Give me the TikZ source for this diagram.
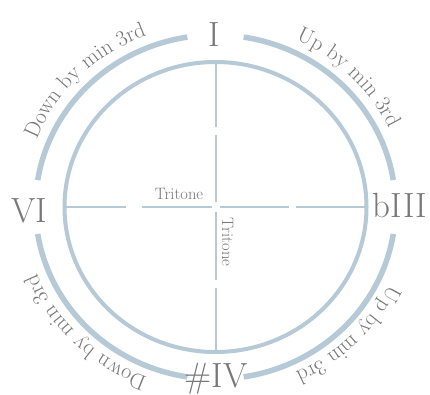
\documentclass[tikz,border=0pt]{standalone}
\usetikzlibrary{decorations.text}
\definecolor{ring}{RGB}{182,201,215}
\definecolor{txt}{RGB}{120,120,120}
\begin{document}
\begin{tikzpicture}[x=1pt,y=1pt,
  numeral/.style={text=txt, font=\fontsize{35}{35}\selectfont, inner sep=0pt, anchor=base},
  tri/.style={text=txt, font=\fontsize{16.5}{16.5}\selectfont, inner sep=0pt, anchor=base},
  outerarc/.style={draw=ring, line width=5.5pt},
  crossline/.style={draw=ring, line width=2pt},
  innerring/.style={draw=ring, line width=4pt}
]
\useasboundingbox[fill=white] (0,0) rectangle (430,394);
\coordinate (c) at (215.5,187);

% inner ring
\draw[innerring] (c) ellipse [x radius=151pt, y radius=145pt];

% outer arcs
\draw[outerarc] (c) ++(99:180pt and 172pt) arc[start angle=99, end angle=171, x radius=180pt, y radius=172pt];
\draw[outerarc] (c) ++(81:180pt and 172pt) arc[start angle=81, end angle=9, x radius=180pt, y radius=172pt];
\draw[outerarc] (c) ++(-9:180pt and 172pt) arc[start angle=-9, end angle=-81, x radius=180pt, y radius=172pt];
\draw[outerarc] (c) ++(-99:180pt and 172pt) arc[start angle=-99, end angle=-171, x radius=180pt, y radius=172pt];

% arc labels
\path[decorate, decoration={text along path, text align=center, text color=txt,
  text={|\fontsize{22}{22}\selectfont|Down by min 3rd}}]
  (c) ++(171:192pt and 184pt) arc[start angle=171, end angle=99, x radius=192pt, y radius=184pt];
\path[decorate, decoration={text along path, text align=center, text color=txt,
  text={|\fontsize{22}{22}\selectfont|Up by min 3rd}}]
  (c) ++(81:192pt and 184pt) arc[start angle=81, end angle=9, x radius=192pt, y radius=184pt];
\path[decorate, decoration={text along path, text align=center, text color=txt,
  text={|\fontsize{22}{22}\selectfont|Up by min 3rd}}]
  (c) ++(-9:192pt and 182pt) arc[start angle=-9, end angle=-81, x radius=192pt, y radius=182pt];
\path[decorate, decoration={text along path, text align=center, text color=txt,
  text={|\fontsize{22}{22}\selectfont|Down by min 3rd}}]
  (c) ++(-99:192pt and 182pt) arc[start angle=-99, end angle=-171, x radius=192pt, y radius=182pt];

% cross lines (broken)
\draw[crossline] (c) ++(0,145) -- ++(0,-65);
\draw[crossline] (c) ++(0,72) -- ++(0,-67);
\draw[crossline] (c) ++(0,-5) -- ++(0,-68);
\draw[crossline] (c) ++(0,-81) -- ++(0,-64);
\draw[crossline] (c) ++(-151,0) -- ++(61,0);
\draw[crossline] (c) ++(-74,0) -- ++(70,0);
\draw[crossline] (c) ++(4,0) -- ++(69,0);
\draw[crossline] (c) ++(80,0) -- ++(71,0);

% numerals
\node[numeral] (nI) at (214,347) {I};
\node[numeral] (nVI) at (29,172) {VI};
\node[numeral] (nbIII) at (400,177) {bIII};
\node[numeral] (nIV) at (216,7) {\#IV};

% tritone labels
\node[tri] (th) at (179,195) {Tritone};
\node[tri, rotate=-90] (tv) at (222,152) {Tritone};
\end{tikzpicture}
\end{document}
